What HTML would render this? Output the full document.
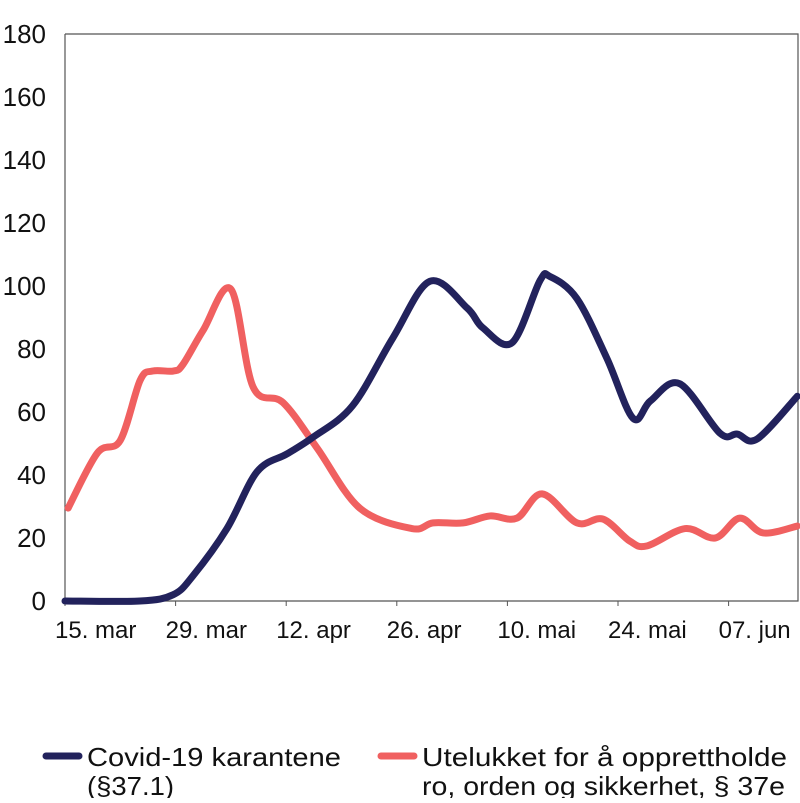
<!DOCTYPE html>
<html><head><meta charset="utf-8"><style>
body{margin:0;background:#fff;}
svg text{font-family:"Liberation Sans",sans-serif;fill:#111;}
</style></head><body>
<svg id="chart" width="800" height="798" xmlns="http://www.w3.org/2000/svg">
<g id="grid"></g><g id="series"></g>
<g>
<line x1="46" y1="756" x2="79" y2="756" stroke="#22225c" stroke-width="7" stroke-linecap="round"/>
<text x="87" y="766" font-size="26" textLength="254" lengthAdjust="spacingAndGlyphs">Covid-19 karantene</text>
<text x="87" y="799" font-size="26" textLength="87" lengthAdjust="spacingAndGlyphs" dy="-4">(§37.1)</text>
<line x1="381" y1="756" x2="414" y2="756" stroke="#f06060" stroke-width="7" stroke-linecap="round"/>
<text x="422" y="766" font-size="26" textLength="365" lengthAdjust="spacingAndGlyphs">Utelukket for å opprettholde</text>
<text x="422" y="795" font-size="26" textLength="363" lengthAdjust="spacingAndGlyphs">ro, orden og sikkerhet, § 37e</text>
</g>
</svg>
<script>
const yTicks=[0,20,40,60,80,100,120,140,160,180];
const xTickLabels=["15. mar","29. mar","12. apr","26. apr","10. mai","24. mai","07. jun"];
const xTickDays=[0,14,28,42,56,70,84];
const blueDays=[0,9.5,13.7,16.2,20.5,24.3,28.1,31.4,36.4,41.5,46.2,50.9,52.9,56.6,60.1,61.4,64.8,68.6,71.9,74.1,77.8,82.9,85.1,87.6,92.7];
const blueVals=[0,0,2,8,23,41,46.7,52,62,83.5,101.5,93,86.7,82,101.6,103,96,77,58,63.5,69,53.3,53,51.4,65];
const redDays=[0.4,4.1,7,9.5,11.1,13.7,14.9,17.5,21,23.8,27.6,31.9,37.3,43.9,46.6,50.4,53.8,57.2,60.4,64.8,68.1,71.5,73.7,78.5,82.3,85.4,88.4,92.7];
const redVals=[29.5,47,51,70,73,73,75,86,99,68,63,48.6,29.5,23,24.8,24.8,27,26.3,34,24.8,26,19,17.5,23,20,26.3,21.6,23.8];
const X=d=>65+d*7.9, Y=v=>601-v*3.15;
const NS="http://www.w3.org/2000/svg";
const g=document.getElementById('grid'), s=document.getElementById('series');
function el(t,a,p){const e=document.createElementNS(NS,t);for(const k in a)e.setAttribute(k,a[k]);p.appendChild(e);return e;}
let ax=el('path',{d:`M65,${Y(180)}V601H798V${Y(180)}H65`,fill:'none',stroke:'#555','stroke-width':1.2},g);


yTicks.forEach(v=>{const t=el('text',{x:46,y:Y(v)+9,'font-size':26,'text-anchor':'end'},g);t.textContent=v;

});
xTickDays.forEach((d,i)=>{const l=el('line',{x1:X(d),x2:X(d),y1:601,y2:606,stroke:'#555'},g);


const t=el('text',{x:X(d)-10,y:638,'font-size':24},g);t.textContent=xTickLabels[i];

});
function path(ds,vs){const p=ds.map((d,i)=>[X(d),Y(vs[i])]);let str=`M${p[0][0]},${p[0][1]}`;
for(let i=0;i<p.length-1;i++){const p0=p[i-1]||p[i],p1=p[i],p2=p[i+1],p3=p[i+2]||p2;
const c1=[p1[0]+(p2[0]-p0[0])/6,p1[1]+(p2[1]-p0[1])/6],c2=[p2[0]-(p3[0]-p1[0])/6,p2[1]-(p3[1]-p1[1])/6];
str+=`C${c1[0]},${c1[1]} ${c2[0]},${c2[1]} ${p2[0]},${p2[1]}`;}return str;}
const r=el('path',{d:path(redDays,redVals),fill:'none',stroke:'#f06060','stroke-width':7,'stroke-linecap':'round','stroke-linejoin':'round'},s);


const b=el('path',{d:path(blueDays,blueVals),fill:'none',stroke:'#22225c','stroke-width':7,'stroke-linecap':'round','stroke-linejoin':'round'},s);


</script>
</body></html>
